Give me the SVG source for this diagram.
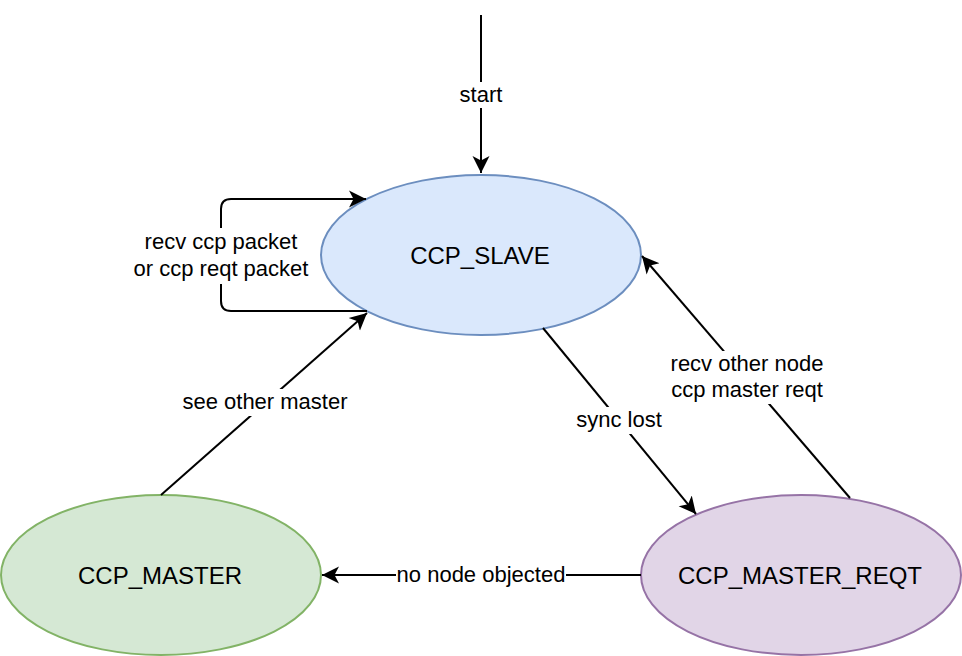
<svg xmlns="http://www.w3.org/2000/svg" width="962" height="656" viewBox="0 0 962 656">
<style>
.lbl{font-family:"Liberation Sans",Arial,sans-serif;font-size:22px;fill:#000;text-anchor:middle}
.node{font-family:"Liberation Sans",Arial,sans-serif;font-size:24px;fill:#000;text-anchor:middle}
.edge{fill:none;stroke:#000;stroke-width:2}
.bg{fill:#fff}
</style>
<defs>
<marker id="arr" markerUnits="userSpaceOnUse" markerWidth="20" markerHeight="20" refX="17" refY="10" orient="auto">
<path d="M0,1.5 L17,10 L0,18.5 L4.5,10 z" fill="#000"/>
</marker>
</defs>
<rect width="962" height="656" fill="#fff"/>
<g id="slave">
<ellipse cx="481" cy="255" rx="160" ry="80" fill="#dae8fc" stroke="#6c8ebf" stroke-width="2"/>
<text class="node" x="480" y="264">CCP_SLAVE</text>
</g>
<g id="master">
<ellipse cx="161" cy="575" rx="160" ry="80" fill="#d5e8d4" stroke="#82b366" stroke-width="2"/>
<text class="node" x="160" y="584">CCP_MASTER</text>
</g>
<g id="reqt">
<ellipse cx="801" cy="575" rx="160" ry="80" fill="#e1d5e7" stroke="#9673a6" stroke-width="2"/>
<text class="node" x="800" y="584">CCP_MASTER_REQT</text>
</g>
<g id="connectors">
<path class="edge" d="M481,15 L481,173" marker-end="url(#arr)"/>
<rect class="bg" x="456" y="82" width="50" height="26"/>
<text class="lbl" x="481" y="102">start</text>

<path class="edge" d="M367,311 L231,311 Q221,311 221,301 L221,209 Q221,199 231,199 L366,199" marker-end="url(#arr)"/>
<rect class="bg" x="132" y="228" width="178" height="56"/>
<text class="lbl" x="221" y="249">recv ccp packet</text>
<text class="lbl" x="221" y="276">or ccp reqt packet</text>

<path class="edge" d="M161,495 L367,313" marker-end="url(#arr)"/>
<rect class="bg" x="180" y="389" width="170" height="27"/>
<text class="lbl" x="265" y="409">see other master</text>

<path class="edge" d="M543,328 L696,514" marker-end="url(#arr)"/>
<rect class="bg" x="574" y="407" width="90" height="27"/>
<text class="lbl" x="619" y="427">sync lost</text>

<path class="edge" d="M850,498 L642,256" marker-end="url(#arr)"/>
<rect class="bg" x="667" y="351" width="160" height="53"/>
<text class="lbl" x="747" y="371">recv other node</text>
<text class="lbl" x="747" y="397">ccp master reqt</text>

<path class="edge" d="M641,575 L322,575" marker-end="url(#arr)"/>
<rect class="bg" x="396" y="562" width="170" height="26"/>
<text class="lbl" x="481" y="582">no node objected</text>
</g>
</svg>
